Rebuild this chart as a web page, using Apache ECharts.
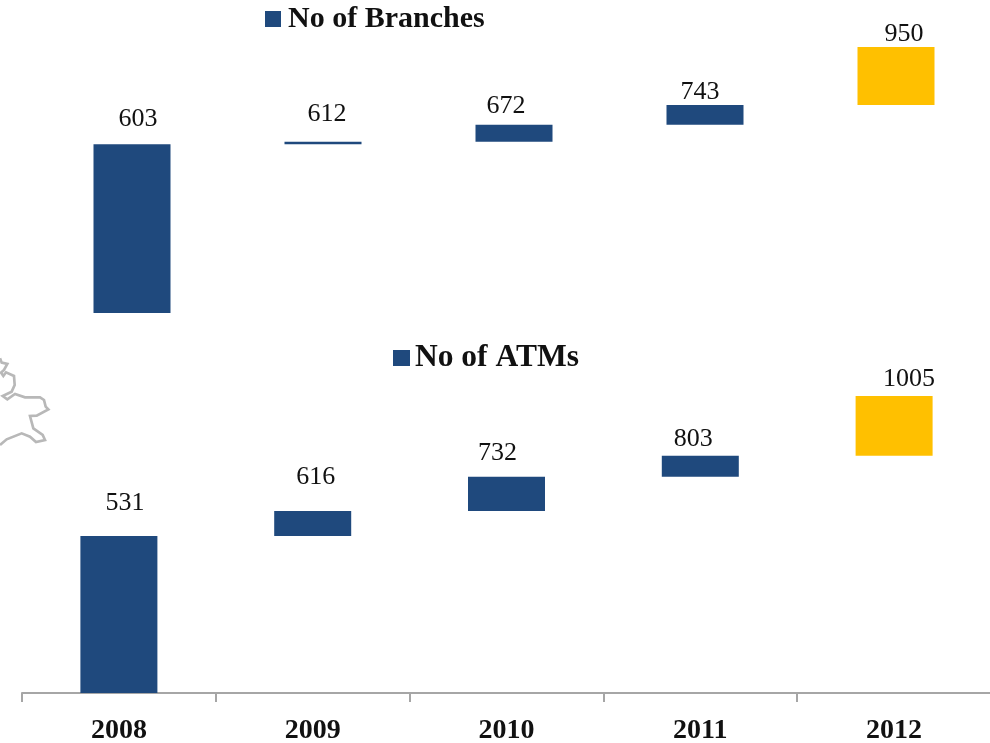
<!DOCTYPE html>
<html>
<head>
<meta charset="utf-8">
<style>html,body{margin:0;padding:0;background:#fff;overflow:hidden}#c{width:990px;height:743px}</style>
<script src="https://cdn.jsdelivr.net/npm/echarts@6/dist/echarts.min.js"></script>
</head>
<body>
<div id="c"></div>
<script>
const years = ['2008','2009','2010','2011','2012'];
const branches = [603,612,672,743,950];
const atms = [531,616,732,803,1005];
const branchLabelShift = [[6,-9],[4,-11],[-8,-3],[-5,3],[8,3]];
const atmLabelShift = [[6,-17],[3,-18],[-9,-8],[-7,-1],[15,-1]];
const outline = [[0,55],[5,68],[22,72],[12,90],[3,98],[10,108],[18,97],[42,108],[44,135],[35,155],[8,168],[22,178],[45,162],[75,172],[120,172],[132,180],[137,200],[145,208],[110,227],[90,228],[100,265],[128,285],[135,300],[108,306],[90,290],[65,280],[20,298],[0,315]];

const NAVY = '#1f497d', GOLD = '#ffc000', SERIF = '"Liberation Serif","DejaVu Serif",serif';

function pair(name, values, shift, axisIndex) {
  const last = values.length - 1;
  return [
    {
      type:'bar', stack:name, xAxisIndex:axisIndex, yAxisIndex:axisIndex, barWidth:77, silent:true,
      itemStyle:{color:'transparent'}, emphasis:{disabled:true},
      data: values.map((v,i)=> i===0 ? 0 : values[i-1])
    },
    {
      type:'bar', name, stack:name, xAxisIndex:axisIndex, yAxisIndex:axisIndex, barWidth:77,
      itemStyle:{color:NAVY},
      data: values.map((v,i)=>({
        value: i===0 ? v : v-values[i-1],
        itemStyle: i===last ? {color:GOLD} : undefined,
        label:{
          show:true, position:'top', offset:shift[i], distance:3,
          formatter:()=>String(v), color:'#111', fontFamily:SERIF, fontSize:26
        }
      }))
    }
  ];
}

const chart = echarts.init(document.getElementById('c'), null, {renderer:'canvas'});
chart.setOption({
  animation:false,
  backgroundColor:'#fff',
  legend:[
    {data:['No of Branches'], left:260, top:-1, itemWidth:16, itemHeight:16, itemGap:6, icon:'rect',
     textStyle:{fontFamily:SERIF, fontWeight:'bold', fontSize:30, color:'#111', padding:[0,0,0,2]}},
    {data:['No of ATMs'], left:388, top:337, itemWidth:17, itemHeight:16, itemGap:6, icon:'rect',
     textStyle:{fontFamily:SERIF, fontWeight:'bold', fontSize:31.5, color:'#111', padding:[0,0,0,0]}}
  ],
  grid:[
    {left:36.5, top:33, width:955, height:280, outerBoundsMode:'none'},
    {left:22, top:368, width:969, height:325, outerBoundsMode:'none'}
  ],
  xAxis:[
    {type:'category', gridIndex:0, data:years, show:false},
    {type:'category', gridIndex:1, data:years,
     axisLine:{lineStyle:{color:'#a6a6a6', width:2}},
     axisTick:{show:true, length:9, lineStyle:{color:'#a6a6a6', width:2}},
     axisLabel:{fontFamily:SERIF, fontWeight:'bold', fontSize:28, color:'#111', margin:24}}
  ],
  yAxis:[
    {type:'value', gridIndex:0, min:0, max:1000, show:false},
    {type:'value', gridIndex:1, min:0, max:1100, show:false}
  ],
  series:[...pair('No of Branches', branches, branchLabelShift, 0), ...pair('No of ATMs', atms, atmLabelShift, 1)],
  graphic:[{
    type:'polyline', silent:true, x:0, y:340, scaleX:1/3, scaleY:1/3,
    shape:{points:outline},
    style:{fill:'none', stroke:'#b8b8b8', lineWidth:8}
  }]
});
</script>
</body>
</html>
